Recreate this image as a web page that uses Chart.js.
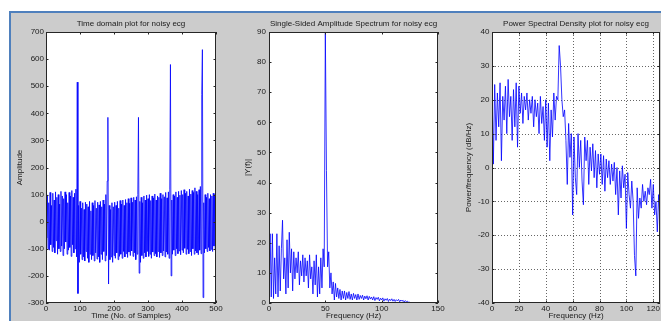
<!DOCTYPE html>
<html><head><meta charset="utf-8">
<script src="https://cdn.jsdelivr.net/npm/chart.js@4.4.0/dist/chart.umd.min.js"></script>
<style>
html,body{margin:0;padding:0;width:661px;height:321px;overflow:hidden;background:#ffffff;}
#fig{position:absolute;left:9px;top:11px;width:660px;height:320px;background:#cccccc;border-top:2px solid #4f80bd;border-left:2px solid #4f80bd;}
canvas{position:absolute;left:0;top:0;}
</style></head>
<body>
<div id="fig"></div>
<canvas id="c1" width="661" height="321"></canvas>
<canvas id="c2" width="661" height="321"></canvas>
<canvas id="c3" width="661" height="321"></canvas>
<script>
// ---------- DATA ----------
// Time-domain noisy ECG, one value every 2 samples (samples 0..500)
const timeSampleStep = 2;
const timeValues = [
 100,-60,95,-100,70,-105,108,-85,60,-110,
 105,-95,80,-115,110,-70,90,-120,100,-100,
 65,-110,112,-90,95,-125,85,-100,110,-75,
 100,-120,70,-105,108,-95,95,-128,115,-85,
 90,-115,105,-100,120,-130,515,-265,60,-150,
 75,-120,50,-140,70,-130,45,-145,72,-110,
 65,-135,55,-150,75,-120,40,-140,70,-125,
 60,-145,78,-115,50,-138,72,-130,62,-150,
 75,-120,55,-140,80,-110,65,-145,100,-125,
 150,385,-230,60,-140,45,-130,70,-150,55,
 -125,72,-135,60,-115,75,-140,50,-128,78,
 -120,65,-135,80,-110,60,-130,82,-118,70,
 -132,85,-112,68,-125,88,-108,72,-128,90,
 -115,80,-140,92,-120,100,385,-190,75,-150,
 90,-125,70,-135,95,-115,80,-130,98,-110,
 85,-128,100,-120,78,-135,95,-112,88,-125,
 102,-118,80,-130,95,-110,90,-132,105,-115,
 85,-125,100,-108,92,-130,108,-112,88,-120,
 110,-135,120,580,-200,80,-120,100,-105,95,
 -125,110,-100,90,-118,112,-108,98,-122,115,
 -105,100,-115,118,-98,105,-120,112,-102,95,
 -118,120,-110,102,-125,115,-100,108,-120,125,
 -108,112,-115,100,-122,118,-105,130,-118,470,
 635,-280,70,-115,100,-100,90,-110,105,-95,
 85,-108,100,-102,95,-110,105,-90,100,-105,90
];
// Single-sided amplitude spectrum |Y(f)|, 1 Hz bins 0..125 Hz
const ampValues = [
 7,23,2,23,1.5,15,3,23,2,19,
 4,18,27.5,8,15,3,21,5,23.5,10,
 18,4,17,8,15,10,17,6,14,9,
 16,7,15,9,14,5,16,8,12,3,
 14,6,16,2,12,3,15,5,18,12,
 90,44,12,17,5,10,3,7,1,6.5,
 2,5,1.5,4.5,1,4,1.5,4,1,3.5,
 1.5,3.8,1.2,3,1,3.2,1.5,2.8,1,3,
 1.2,2.5,1.5,2.6,1,2.3,1.4,2.4,1,2.2,
 1.3,2,1,2.1,0.8,1.8,1.2,1.9,0.7,1.6,
 1,1.7,0.6,1.4,0.9,1.5,0.5,1.3,0.8,1.4,
 0.6,1.2,0.5,1.1,0.7,1.2,0.4,1,0.6,0.9,
 0.3,0.8,0.4,0.6,0.2,0.3
];
// Power spectral density (dB/Hz), 1 Hz bins 0..125 Hz
const psdValues = [
 24,1,24.5,8,22,12,25,2,21,14,
 24,10,26,15,21,8,23,12,25,6,
 24,16,22,13,21,17,22,14,20,16,
 21,12,20,15,19,10,21,13,18,8,
 20,6,19,2,17,9,22,14,21,20,
 36,30,20,15,17,8,-5,13,3,10,
 -14,9,-3,-8,10,0,8,-4,-11,9,
 2,8,-5,6,-1,7,-3,5,-6,4,
 -2,4,-5,3.5,-7,2.5,-3,2,-5,1,
 -4,1.5,-8,0,-14,-1,-9,0.5,-6,-2,
 -18,-1.5,-8,-12,-4,-10,-26,-32,-6,-15,
 -9,-12,-5,-10,-7,-11,-6,-8,-3.5,-12,
 -5,-14,-10,-19,-8,-16
];
const freqStep = 1;
// Tick labels
const timeXTicks = [0,100,200,300,400,500];
const timeYTicks = [-300,-200,-100,0,100,200,300,400,500,600,700];
const ampXTicks = [0,50,100,150];
const ampYTicks = [0,10,20,30,40,50,60,70,80,90];
const psdXTicks = [0,20,40,60,80,100,120];
const psdYTicks = [-40,-30,-20,-10,0,10,20,30,40];

// ---------- STYLE ----------
const BLUE = '#0000ff';
const TXT = '#1a1a1a';
const FONT = "'Liberation Sans', Arial, Helvetica, sans-serif";
const f8 = {family: FONT, size: 8, weight: 'normal'};

const framePlugin = {
  id: 'frame',
  beforeDraw(chart) {
    const a = chart.chartArea, c = chart.ctx;
    c.save(); c.fillStyle = '#ffffff';
    c.fillRect(a.left, a.top, a.right - a.left, a.bottom - a.top);
    c.restore();
  },
  beforeDatasetsDraw(chart, args, opts) {
    if (!opts.grid) return;
    const a = chart.chartArea, c = chart.ctx, xs = chart.scales.x, ys = chart.scales.y;
    c.save();
    c.strokeStyle = '#666666'; c.lineWidth = 1; c.setLineDash([1, 2]);
    xs.ticks.forEach(t => {
      const p = Math.round(xs.getPixelForValue(t.value)) + 0.5;
      if (p <= a.left + 1 || p >= a.right - 1) return;
      c.beginPath(); c.moveTo(p, a.top); c.lineTo(p, a.bottom); c.stroke();
    });
    ys.ticks.forEach(t => {
      const p = Math.round(ys.getPixelForValue(t.value)) + 0.5;
      if (p <= a.top + 1 || p >= a.bottom - 1) return;
      c.beginPath(); c.moveTo(a.left, p); c.lineTo(a.right, p); c.stroke();
    });
    c.restore();
  },
  afterDatasetsDraw(chart) {
    const a = chart.chartArea, c = chart.ctx, xs = chart.scales.x, ys = chart.scales.y;
    const L = 2.5;
    c.save();
    c.strokeStyle = '#262626'; c.lineWidth = 1;
    c.strokeRect(Math.round(a.left) + 0.5, Math.round(a.top) + 0.5,
      Math.round(a.right - a.left) - 1, Math.round(a.bottom - a.top) - 1);
    c.beginPath();
    xs.ticks.forEach(t => {
      const p = Math.round(xs.getPixelForValue(t.value)) + 0.5;
      c.moveTo(p, a.bottom); c.lineTo(p, a.bottom - L);
      c.moveTo(p, a.top); c.lineTo(p, a.top + L);
    });
    ys.ticks.forEach(t => {
      const p = Math.round(ys.getPixelForValue(t.value)) + 0.5;
      c.moveTo(a.left, p); c.lineTo(a.left + L, p);
      c.moveTo(a.right, p); c.lineTo(a.right - L, p);
    });
    c.stroke();
    c.restore();
  }
};

function axis(min, max, tickList, fitFn, tickPad, titleText, titlePad) {
  return {
    type: 'linear', min: min, max: max,
    afterBuildTicks: s => { s.ticks = tickList.map(v => ({value: v})); },
    afterFit: fitFn,
    grid: {display: false, drawTicks: false},
    border: {display: false},
    ticks: {autoSkip: false, maxRotation: 0, minRotation: 0, padding: tickPad, color: TXT, font: f8},
    title: {display: true, text: titleText, color: TXT, font: f8, padding: titlePad}
  };
}

function makeChart(id, values, step, title, pad, xAxis, yAxis, grid) {
  return new Chart(document.getElementById(id), {
    type: 'line',
    data: {datasets: [{
      data: values.map((v, i) => ({x: i * step, y: v})),
      borderColor: BLUE, borderWidth: 0.8, pointRadius: 0, fill: false, tension: 0
    }]},
    options: {
      responsive: false, animation: false, devicePixelRatio: 1, events: [],
      layout: {padding: pad},
      plugins: {
        legend: {display: false}, tooltip: {enabled: false},
        title: {display: true, text: title, fullSize: false, color: TXT, font: f8,
                padding: {top: 6.2, bottom: 3.2}},
        frame: {grid: grid}
      },
      scales: {x: xAxis, y: yAxis}
    },
    plugins: [framePlugin]
  });
}

makeChart('c1', timeValues, timeSampleStep, 'Time domain plot for noisy ecg',
  {left: 10, right: 445, top: 13, bottom: 0},
  axis(0, 500, timeXTicks, s => { s.height = 18; }, 1, 'Time (No. of Samples)', {top: 0, bottom: 0}),
  axis(-300, 700, timeYTicks, s => { s.width = 36; }, 2, 'Amplitude', {top: 4.7, bottom: 0}),
  false);

makeChart('c2', ampValues, freqStep, 'Single-Sided Amplitude Spectrum for noisy ecg',
  {left: 229, right: 223, top: 13, bottom: 0},
  axis(0, 150, ampXTicks, s => { s.height = 18; }, 1, 'Frequency (Hz)', {top: 0, bottom: 0}),
  axis(0, 90, ampYTicks, s => { s.width = 40; }, 3, '|Y(f)|', {top: 14.2, bottom: 0}),
  false);

makeChart('c3', psdValues, freqStep, 'Power Spectral Density plot for noisy ecg',
  {left: 452, right: 0, top: 13, bottom: 0},
  axis(0, 125, psdXTicks, s => { s.height = 18; }, 1, 'Frequency (Hz)', {top: 0, bottom: 0}),
  axis(-40, 40, psdYTicks, s => { s.width = 40; }, 2.5, 'Power/frequency (dB/Hz)', {top: 12.2, bottom: 0}),
  true);
</script>
</body></html>
